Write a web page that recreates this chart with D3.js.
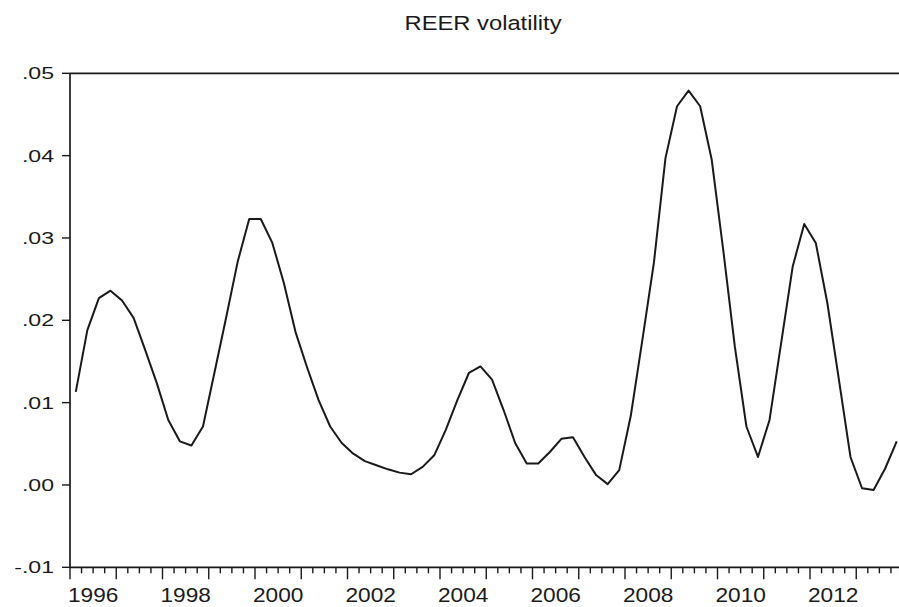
<!DOCTYPE html>
<html>
<head>
<meta charset="utf-8">
<script src="https://cdn.jsdelivr.net/npm/d3@7"></script>
<style>
  html, body { margin: 0; padding: 0; background: #fff; }
  svg { display: block; }
  text { font-family: "Liberation Sans", Arial, sans-serif; fill: #1a1a1a; }
</style>
</head>
<body>
<div id="chart"></div>
<script>
// quarterly REER volatility, 1996Q1 .. 2013Q4
const startYear = 1996;
const quarters = 4;
const volatility = [
  0.0113, 0.0188, 0.0227, 0.0236, 0.0224, 0.0203, 0.0164, 0.0124, 0.0079, 0.0053, 0.0048, 0.0071,
  0.0137, 0.0203, 0.0271, 0.0323, 0.0323, 0.0294, 0.0245, 0.0186, 0.0143, 0.0103, 0.0071, 0.0051,
  0.0038, 0.0029, 0.0024, 0.0019, 0.0015, 0.0013, 0.0022, 0.0036, 0.0067, 0.0103, 0.0136, 0.0144,
  0.0128, 0.0091, 0.0051, 0.0026, 0.0026, 0.0040, 0.0056, 0.0058, 0.0034, 0.0012, 0.0001, 0.0018,
  0.0084, 0.0176, 0.0270, 0.0397, 0.0460, 0.0479, 0.0460, 0.0395, 0.0285, 0.0168, 0.0071, 0.0034,
  0.0079, 0.0172, 0.0265, 0.0317, 0.0294, 0.0221, 0.0128, 0.0034, -0.0004, -0.0006, 0.0020, 0.0053
];
const yTicks = [-0.01, 0.00, 0.01, 0.02, 0.03, 0.04, 0.05];
const yTickLabels = ["-.01", ".00", ".01", ".02", ".03", ".04", ".05"];
const yearLabels = [1996, 1998, 2000, 2002, 2004, 2006, 2008, 2010, 2012];
const title = "REER volatility";

const draw = () => {
  const width = 899, height = 607;
  const n = volatility.length;

  const svg = d3.select('#chart').append('svg')
    .attr('width', width)
    .attr('height', height);

  // index based x scale, each observation sits in the middle of its quarter
  const x = d3.scaleLinear().domain([-0.5, n - 0.5]).range([70, 902.5]);
  const y = d3.scaleLinear().domain([-0.01, 0.05]).range([567.3, 73.3]);

  const ink = "#1a1a1a";

  // title
  svg.append('text')
    .attr('x', 483)
    .attr('y', 30)
    .attr('text-anchor', 'middle')
    .attr('font-size', 20.5)
    .attr('textLength', 157)
    .attr('lengthAdjust', 'spacingAndGlyphs')
    .text(title);

  // frame: left axis, top line, bottom axis
  svg.append('line')
    .attr('x1', x.range()[0]).attr('x2', x.range()[0])
    .attr('y1', y(0.05)).attr('y2', y(-0.01))
    .attr('stroke', ink).attr('stroke-width', 1.7);
  svg.append('line')
    .attr('x1', x.range()[0]).attr('x2', width)
    .attr('y1', y(0.05)).attr('y2', y(0.05))
    .attr('stroke', ink).attr('stroke-width', 1.7);
  svg.append('line')
    .attr('x1', x.range()[0]).attr('x2', width)
    .attr('y1', y(-0.01)).attr('y2', y(-0.01))
    .attr('stroke', ink).attr('stroke-width', 1.7);

  // y axis ticks + labels
  const yAxis = svg.append('g');
  yTicks.forEach((v, i) => {
    yAxis.append('line')
      .attr('x1', x.range()[0] - 8).attr('x2', x.range()[0])
      .attr('y1', y(v)).attr('y2', y(v))
      .attr('stroke', ink).attr('stroke-width', 1.4);
    yAxis.append('g')
      .attr('transform', `translate(54,${y(v) + 6}) scale(1.4,1)`)
      .append('text')
      .attr('text-anchor', 'end')
      .attr('font-size', 16.5)
      .text(yTickLabels[i]);
  });

  // x axis ticks: long at year boundaries, short at quarter boundaries
  const xAxis = svg.append('g');
  d3.range(0, n + 1).forEach(q => {
    const major = q % quarters === 0;
    xAxis.append('line')
      .attr('x1', x(q - 0.5)).attr('x2', x(q - 0.5))
      .attr('y1', y(-0.01)).attr('y2', y(-0.01) + (major ? 12 : 6))
      .attr('stroke', ink).attr('stroke-width', 1.4);
  });
  yearLabels.forEach(yr => {
    const mid = (yr - startYear) * quarters + (quarters - 1) / 2;
    xAxis.append('g')
      .attr('transform', `translate(${x(mid)},601.5) scale(1.08,1)`)
      .append('text')
      .attr('text-anchor', 'middle')
      .attr('font-size', 21)
      .text(yr);
  });

  // series
  const line = d3.line()
    .x((d, i) => x(i))
    .y(d => y(d));

  svg.append('path')
    .datum(volatility)
    .attr('d', line)
    .attr('fill', 'none')
    .attr('stroke', ink)
    .attr('stroke-width', 2)
    .attr('stroke-linejoin', 'round');
};

draw();
</script>
</body>
</html>
